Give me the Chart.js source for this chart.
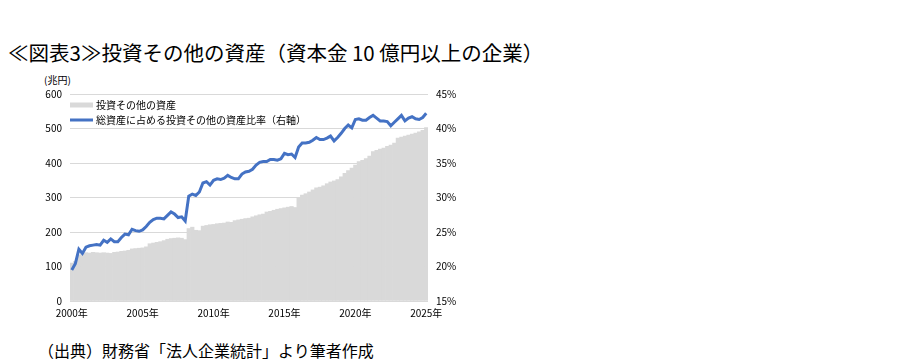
<!DOCTYPE html>
<html>
<head>
<meta charset="utf-8">
<script src="https://cdn.jsdelivr.net/npm/chart.js@4/dist/chart.umd.min.js"></script>
<style>
  body { margin: 0; background: #fff; width: 904px; height: 364px; position: relative; overflow: hidden;
         font-family: "Noto Sans CJK JP", sans-serif; color: #000; }
  #title { position: absolute; left: 8px; top: 39px; font-size: 20.5px; line-height: 26px; white-space: nowrap; }
  #unit { position: absolute; left: 44px; top: 74px; font-size: 10px; line-height: 12px; }
  #wrap { position: absolute; left: 30px; top: 70px; width: 440px; height: 255px; }
  #src { position: absolute; left: 38px; top: 339px; font-size: 16px; line-height: 22px; white-space: nowrap; }
</style>
</head>
<body>
<div id="title">≪図表3≫投資その他の資産（資本金 10 億円以上の企業）</div>
<div id="unit">(兆円)</div>
<div id="wrap"><canvas id="myChart"></canvas></div>
<div id="src">（出典）財務省「法人企業統計」より筆者作成</div>
<script>
// quarterly, 2000 Q1 .. 2025 Q1
var years = [2000, 2001, 2002, 2003, 2004, 2005, 2006, 2007, 2008, 2009, 2010, 2011, 2012,
  2013, 2014, 2015, 2016, 2017, 2018, 2019, 2020, 2021, 2022, 2023, 2024, 2025];
var quarters = [];
years.forEach(function (y) {
  for (var q = 1; q <= 4; q++) {
    if (y === 2025 && q > 1) break;
    quarters.push(y + "Q" + q);
  }
});

// 投資その他の資産 (兆円)
var assets = [
  110, 115, 133, 138, 140, 139, 141, 140, 139, 140, 139, 138, 141, 142, 144, 145, 147, 151, 152, 153,
  154, 157, 166, 168, 170, 172, 175, 179, 181, 182, 183, 182, 178, 210, 214, 205, 204, 217, 219, 221,
  222, 224, 225, 226, 229, 228, 233, 235, 237, 239, 240, 244, 247, 250, 252, 258, 260, 263, 266, 268,
  270, 272, 274, 271, 298, 307, 311, 316, 322, 328, 330, 334, 340, 345, 348, 352, 360, 370, 378, 385,
  394, 404, 408, 413, 420, 433, 437, 440, 443, 448, 452, 458, 472, 475, 478, 481, 484, 487, 490, 495,
  503
];
// 総資産に占める投資その他の資産比率 (%)
var ratio = [
  19.5, 20.4, 22.5, 21.9, 22.8, 23.0, 23.1, 23.2, 23.1, 23.8, 23.5, 24.0, 23.6, 23.6, 24.2, 24.7, 24.6, 25.4, 25.2, 25.1,
  25.3, 25.8, 26.4, 26.8, 27.0, 27.0, 26.9, 27.4, 27.9, 27.6, 27.1, 27.2, 26.6, 30.2, 30.5, 30.3, 30.8, 32.1, 32.3, 31.8,
  32.5, 32.7, 32.6, 32.8, 33.2, 32.9, 32.7, 32.7, 33.4, 33.7, 33.8, 34.1, 34.7, 35.1, 35.2, 35.2, 35.5, 35.5, 35.4, 35.6,
  36.4, 36.2, 36.3, 35.8, 37.3, 37.9, 37.9, 38.0, 38.3, 38.7, 38.4, 38.4, 38.6, 38.9, 38.2, 38.7, 39.3, 40.0, 40.5, 40.1,
  41.3, 41.4, 41.2, 41.2, 41.6, 41.9, 41.5, 41.1, 41.1, 41.0, 40.4, 40.9, 41.4, 41.9, 41.1, 41.5, 41.7, 41.4, 41.3, 41.6,
  42.2
];
var leftTicks = [0, 600, 100];   // min, max, step
var rightTicks = [15, 45, 5];

Chart.defaults.font.family = "'Noto Sans CJK JP', sans-serif";
Chart.defaults.font.size = 10;
Chart.defaults.color = "#000";

// legend drawn inside the plot, top left
var innerLegend = {
  id: "innerLegend",
  afterDatasetsDraw: function (chart) {
    var ctx = chart.ctx, area = chart.chartArea;
    ctx.save();
    ctx.font = "10px 'Noto Sans CJK JP', sans-serif";
    ctx.textBaseline = "middle";
    ctx.fillStyle = "#000";
    chart.data.datasets.forEach(function (ds, i) {
      var y = area.top + 11 + i * 15;
      ctx.fillStyle = ds.type === "line" ? ds.borderColor : ds.backgroundColor;
      ctx.fillRect(area.left, y - (ds.type === "line" ? 1.5 : 2.5), 23, ds.type === "line" ? 3 : 5);
      ctx.fillStyle = "#000";
      ctx.fillText(ds.label, area.left + 26, y);
    });
    ctx.restore();
  }
};

new Chart("myChart", {
  type: "bar",
  data: {
    labels: quarters,
    datasets: [{
      type: "bar",
      label: "投資その他の資産",
      data: assets,
      backgroundColor: "#d9d9d9",
      barPercentage: 1,
      categoryPercentage: 1,
      yAxisID: "y",
      order: 2
    }, {
      type: "line",
      label: "総資産に占める投資その他の資産比率（右軸）",
      data: ratio,
      borderColor: "#4472c4",
      backgroundColor: "#4472c4",
      borderWidth: 3,
      pointRadius: 0,
      tension: 0,
      yAxisID: "y1",
      order: 1
    }]
  },
  options: {
    responsive: true,
    maintainAspectRatio: false,
    animation: false,
    layout: { padding: { top: 24, left: 0, right: 0, bottom: 0 } },
    plugins: {
      legend: { display: false },
      tooltip: { enabled: false }
    },
    scales: {
      x: {
        grid: { display: false, drawTicks: false },
        border: { display: false },
        ticks: {
          autoSkip: false,
          maxRotation: 0,
          padding: 6,
          callback: function (v, i) {
            return i % 20 === 0 ? quarters[i].slice(0, 4) + "年" : "";
          }
        },
        afterFit: function (s) { s.height = 24; }
      },
      y: {
        position: "left",
        min: leftTicks[0],
        max: leftTicks[1],
        ticks: { stepSize: leftTicks[2], padding: 8 },
        grid: { color: "#d9d9d9", drawTicks: false },
        border: { display: false },
        afterFit: function (s) { s.width = 40; }
      },
      y1: {
        position: "right",
        min: rightTicks[0],
        max: rightTicks[1],
        ticks: { stepSize: rightTicks[2], padding: 8, callback: function (v) { return v + "%"; } },
        grid: { display: false, drawTicks: false },
        border: { display: false },
        afterFit: function (s) { s.width = 42; }
      }
    }
  },
  plugins: [innerLegend]
});
</script>
</body>
</html>
